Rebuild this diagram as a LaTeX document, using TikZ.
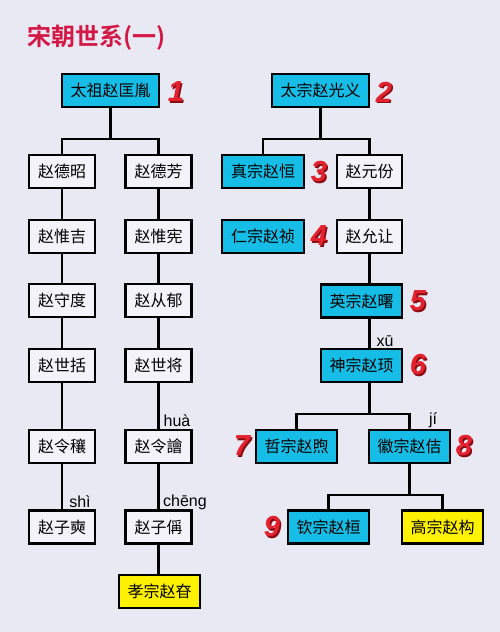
\documentclass[tikz,border=0pt]{standalone}
\usepackage{fontspec}
\newfontfamily\cjk{Noto Sans CJK SC}
\newfontfamily\cjkb{Noto Sans CJK SC Bold}
\newfontfamily\pyfont{Liberation Sans}
\newfontfamily\numfont{Liberation Sans Bold Italic}
\definecolor{bgc}{HTML}{E9E9F3}
\definecolor{cyanbox}{HTML}{16BDE6}
\definecolor{yelbox}{HTML}{FFF200}
\definecolor{whitebox}{HTML}{F3F3F9}
\definecolor{titlered}{HTML}{D41846}
\definecolor{numred}{HTML}{E3222E}
\definecolor{numdark}{HTML}{8A0A14}
\tikzset{
  box/.style={draw=black, line width=2.2pt, inner sep=0pt, minimum height=33pt,
    font=\cjk\fontsize{16}{16}\selectfont, text=black},
  pbox/.style={box, fill=whitebox, minimum width=66pt},
  cbox/.style={box, fill=cyanbox, minimum width=81pt},
  ybox/.style={box, fill=yelbox, minimum width=81pt},
  link/.style={line width=2.2pt, draw=black},
  py/.style={font=\pyfont\fontsize{16}{16}\selectfont, inner sep=0pt},
  numlab/.style={font=\numfont\fontsize{29}{29}\selectfont, text=numred, inner sep=0pt},
  numsh/.style={font=\numfont\fontsize{29}{29}\selectfont, text=numdark, inner sep=0pt}
}
\newcommand{\dnum}[3]{%
  \node[numsh] (#1s) at (#2+1.5,#3+1.5) {#1};
  \node[numlab] (#1n) at (#2,#3) {#1};
}
\begin{document}
\begin{tikzpicture}[x=1pt,y=-1pt]
\fill[bgc] (0,0) rectangle (500,632);
\useasboundingbox (0,0) rectangle (500,632);

% title
\node[anchor=west, inner sep=0pt, text=titlered, font=\cjkb\fontsize{24}{24}\selectfont] (title) at (27,37.5) {宋朝世系(一)};

% left tree
\node[cbox, minimum width=97pt] (taizu) at (110.5,90.5) {太祖赵匡胤};
\node[pbox] (dezhao) at (62,171.5) {赵德昭};
\node[pbox] (defang) at (158.5,171.5) {赵德芳};
\node[pbox] (weiji) at (62,236.5) {赵惟吉};
\node[pbox] (weixian) at (158.5,236.5) {赵惟宪};
\node[pbox] (shoudu) at (62,300.5) {赵守度};
\node[pbox] (congyu) at (158.5,300.5) {赵从郁};
\node[pbox] (shikuo) at (62,365.5) {赵世括};
\node[pbox] (shijiang) at (158.5,365.5) {赵世将};
\node[pbox] (lingrang) at (62,446.5) {赵令穰};
\node[pbox] (linghua) at (158.5,446.5) {赵令譮};
\node[pbox] (zishi) at (62,527) {赵子奭};
\node[pbox] (zicheng) at (158.5,527) {赵子偁};
\node[ybox] (xiaozong) at (159.5,591.5) {孝宗赵昚};

\coordinate (j1) at (110.5,139);
\draw[link] (taizu.south) -- (j1);
\draw[link] (dezhao.north) |- (j1) -| (defang.north);
\draw[link] (dezhao) -- (weiji);
\draw[link] (weiji) -- (shoudu);
\draw[link] (shoudu) -- (shikuo);
\draw[link] (shikuo) -- (lingrang);
\draw[link] (lingrang) -- (zishi);
\draw[link] (defang) -- (weixian);
\draw[link] (weixian) -- (congyu);
\draw[link] (congyu) -- (shijiang);
\draw[link] (shijiang) -- (linghua);
\draw[link] (linghua) -- (zicheng);
\draw[link] (zicheng.south) -- (zicheng.south |- xiaozong.north);

% right tree
\node[cbox, minimum width=97pt] (taizong) at (320.5,90.5) {太宗赵光义};
\node[cbox, minimum width=82pt] (zhenzong) at (263,171.5) {真宗赵恒};
\node[pbox, minimum width=65pt] (yuanfen) at (369.5,171.5) {赵元份};
\node[cbox, minimum width=82pt] (renzong) at (263,236.5) {仁宗赵祯};
\node[pbox, minimum width=65pt] (yunrang) at (369.5,236.5) {赵允让};
\node[cbox] (yingzong) at (361.5,301) {英宗赵曙};
\node[cbox] (shenzong) at (361.5,365.5) {神宗赵顼};
\node[cbox] (zhezong) at (296.5,446.5) {哲宗赵煦};
\node[cbox] (huizong) at (409.5,446.5) {徽宗赵佶};
\node[cbox] (qinzong) at (328.5,527) {钦宗赵桓};
\node[ybox] (gaozong) at (442.5,527) {高宗赵构};

\coordinate (j2) at (320.5,139);
\draw[link] (taizong.south) -- (j2);
\draw[link] (zhenzong.north) |- (j2) -| (yuanfen.north);
\draw[link] (yuanfen) -- (yunrang);
\draw[link] (yunrang.south) -- (yunrang.south |- yingzong.north);
\draw[link] (yingzong.south -| yunrang.south) -- (shenzong.north -| yunrang.south);
\coordinate (j3) at (369.5,414);
\draw[link] (shenzong.south -| j3) -- (j3);
\draw[link] (zhezong.north) |- (j3) -| (huizong.north);
\coordinate (j4) at (409.5,495);
\draw[link] (huizong.south) -- (j4);
\draw[link] (qinzong.north) |- (j4) -| (gaozong.north);

% pinyin
\node[py] (pyhua) at (177,421) {huà};
\node[py] (pyshi) at (80,502) {shì};
\node[py] (pycheng) at (185,502) {chēng};
\node[py] (pyxu) at (385,341) {xū};
\node[py] (pyji) at (433,420) {jí};

% reign numbers
\dnum{1}{176}{92}
\dnum{2}{384}{92}
\dnum{3}{319}{172}
\dnum{4}{319}{236}
\dnum{5}{418}{301}
\dnum{6}{418}{365}
\dnum{7}{242}{446}
\dnum{8}{464}{446}
\dnum{9}{272}{527}
\end{tikzpicture}
\end{document}
